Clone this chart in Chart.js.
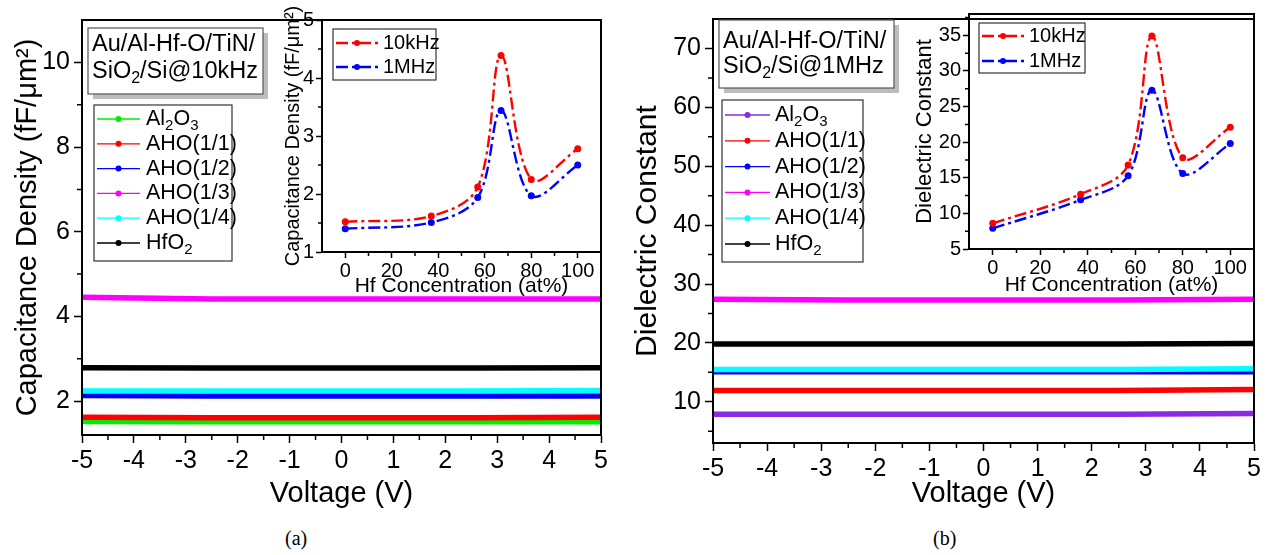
<!DOCTYPE html>
<html>
<head>
<meta charset="utf-8">
<script src="https://cdn.jsdelivr.net/npm/chart.js@4.4.0/dist/chart.umd.min.js"></script>
<style>
body{margin:0;background:#fff;width:1266px;height:555px;overflow:hidden;position:relative;}
canvas{position:absolute;top:0;}
.cap{position:absolute;top:527px;font-family:"Liberation Serif","Times New Roman",serif;font-size:20px;color:#000;}
</style>
</head>
<body>
<canvas id="mainA" width="620" height="520" style="left:0px"></canvas>
<canvas id="insetA" width="340" height="300" style="left:270px"></canvas>
<canvas id="mainB" width="636" height="520" style="left:630px"></canvas>
<canvas id="insetB" width="357" height="300" style="left:905px"></canvas>
<div class="cap" style="left:285px">(a)</div>
<div class="cap" style="left:933px">(b)</div>
<script>
// main plots: value vs bias voltage
var voltage = [-5, -2.5, 0, 2.5, 5];
var sampleNames = ['Al₂O₃', 'AHO(1/1)', 'AHO(1/2)', 'AHO(1/3)', 'AHO(1/4)', 'HfO₂'];
var colorsA = ['#00ee00', '#ff0000', '#0000ff', '#ff00ff', '#00ffff', '#000000'];
var colorsB = ['#8a2be2', '#ff0000', '#0000ff', '#ff00ff', '#00ffff', '#000000'];

// (a) capacitance density @10kHz (fF/um2)
var capAl2o3 = [1.52, 1.51, 1.51, 1.51, 1.51];
var capAho11 = [1.62, 1.61, 1.61, 1.61, 1.62];
var capAho12 = [2.13, 2.12, 2.12, 2.12, 2.12];
var capAho13 = [4.45, 4.41, 4.41, 4.41, 4.41];
var capAho14 = [2.24, 2.24, 2.24, 2.24, 2.25];
var capHfo2  = [2.79, 2.78, 2.78, 2.78, 2.79];

// (b) dielectric constant @1MHz
var kAl2o3 = [7.9, 7.9, 7.9, 7.9, 8.0];
var kAho11 = [11.9, 11.9, 11.9, 11.9, 12.1];
var kAho12 = [15.1, 15.1, 15.1, 15.1, 15.1];
var kAho13 = [27.4, 27.3, 27.3, 27.3, 27.4];
var kAho14 = [15.5, 15.5, 15.5, 15.5, 15.6];
var kHfo2  = [19.8, 19.8, 19.8, 19.8, 19.9];

// insets: vs Hf concentration
var hfConc = [0, 37, 57, 67, 80, 100];
var freqNames = ['10kHz', '1MHz'];
var cap10k = [1.52, 1.62, 2.12, 4.39, 2.25, 2.78];
var cap1M  = [1.40, 1.51, 1.94, 3.44, 1.97, 2.50];
var k10k = [8.6, 12.7, 16.8, 34.9, 17.8, 22.1];
var k1M  = [7.9, 11.9, 15.3, 27.3, 15.6, 19.8];

// tick labels
var voltTicks = [-5, -4, -3, -2, -1, 0, 1, 2, 3, 4, 5];
var capTicks = [2, 4, 6, 8, 10];
var kTicks = [10, 20, 30, 40, 50, 60, 70];
var concTicks = [0, 20, 40, 60, 80, 100];
var capInsetTicks = [1, 2, 3, 4, 5];
var kInsetTicks = [5, 10, 15, 20, 25, 30, 35];

var FONT = '"Liberation Sans", Arial, sans-serif';
var SUBS = '₀₁₂₃₄₅₆₇₈₉';
var DASHDOT = [12, 4, 3, 4];

function init(){
	Chart.defaults.font.family = FONT;
	Chart.defaults.color = '#000';
	Chart.defaults.animation = false;

	var serA = [capAl2o3, capAho11, capAho12, capAho13, capAho14, capHfo2];
	var serB = [kAl2o3, kAho11, kAho12, kAho13, kAho14, kHfo2];

	new Chart(document.getElementById('mainA'), {
		type: 'line',
		data: { datasets: mainSets(serA, colorsA) },
		options: mainOptions(
			makeScale(-5, 5, voltTicks, 'Voltage (V)', {h: 85, fs: 25, ts: 29, tl: 8, pad: 3, tpad: {top: 0, bottom: 9}}),
			makeScale(1.2, 11, capTicks, 'Capacitance Density (fF/μm²)', {w: 82, fs: 25, ts: 29, tl: 8, pad: 4, tpad: {top: 11, bottom: 0}}),
			{top: 20, right: 19, left: 0, bottom: 0}),
		plugins: [deco({
			minorLen: 5,
			textBox: {x: 88, y: 28, w: 175, h: 66, lines: ['Au/Al-Hf-O/TiN/', 'SiO₂/Si@10kHz'], ly: [45, 72], tx: 4, size: 23.5},
			legend: {x: 94, y: 105, w: 138, h: 156, first: 14, gap: 24.8, l0: 3, l1: 46, tx: 52, size: 21.5, lw: 1.3, r: 3}
		})]
	});

	new Chart(document.getElementById('mainB'), {
		type: 'line',
		data: { datasets: mainSets(serB, colorsB) },
		options: mainOptions(
			makeScale(-5, 5, voltTicks, 'Voltage (V)', {h: 77, fs: 25, ts: 29, tl: 8, pad: 3, tpad: {top: 0, bottom: 9}}),
			makeScale(3, 75, kTicks, 'Dielectric Constant', {w: 83, fs: 25, ts: 30, tl: 8, pad: 4, tpad: {top: 0, bottom: 0}}),
			{top: 13, right: 12, left: 0, bottom: 0}),
		plugins: [deco({
			minorLen: 5,
			textBox: {x: 89, y: 20, w: 175, h: 68, lines: ['Au/Al-Hf-O/TiN/', 'SiO₂/Si@1MHz'], ly: [42, 67], tx: 4, size: 23.5},
			legend: {x: 92, y: 100, w: 141, h: 162, first: 15, gap: 25.8, l0: 3, l1: 48, tx: 53, size: 21.5, lw: 1.3, r: 3}
		})]
	});

	new Chart(document.getElementById('insetA'), {
		type: 'line',
		data: { datasets: insetSets(cap10k, cap1M) },
		options: mainOptions(
			makeScale(-10, 110, concTicks, 'Hf Concentration (at%)', {h: 48, fs: 20, ts: 21, tl: 6, pad: 1, tpad: {top: 0, bottom: 1}}),
			makeScale(1, 5, capInsetTicks, 'Capacitance Density (fF/μm²)', {w: 52, fs: 20, ts: 20, tl: 6, pad: 2, tpad: {top: 11, bottom: 0}}),
			{top: 20, right: 9, left: 0, bottom: 0}),
		plugins: [deco({
			minorLen: 4,
			legend: {x: 63, y: 29, w: 103, h: 51, first: 14, gap: 24, l0: 3, l1: 45, tx: 50, size: 20, lw: 2.4, r: 3, dash: DASHDOT}
		})]
	});

	new Chart(document.getElementById('insetB'), {
		type: 'line',
		data: { datasets: insetSets(k10k, k1M) },
		options: mainOptions(
			makeScale(-10, 110, concTicks, 'Hf Concentration (at%)', {h: 51, fs: 20, ts: 21, tl: 6, pad: 1, tpad: {top: 0, bottom: 2}}),
			makeScale(5, 38, kInsetTicks, 'Dielectric Constant', {w: 64, fs: 20, ts: 22, tl: 6, pad: 2, tpad: {top: 7, bottom: 0}}),
			{top: 13, right: 8, left: 0, bottom: 0}),
		plugins: [deco({
			minorLen: 4,
			legend: {x: 74, y: 23, w: 106, h: 50, first: 13, gap: 25, l0: 3, l1: 45, tx: 50, size: 20, lw: 2.4, r: 3, dash: DASHDOT}
		})]
	});
}

function mainSets(series, colors){
	var sets = [];
	for (var i = 0; i < series.length; i++) {
		var pts = [];
		for (var j = 0; j < voltage.length; j++) pts.push({x: voltage[j], y: series[i][j]});
		sets.push({
			label: sampleNames[i], data: pts,
			borderColor: colors[i], backgroundColor: colors[i],
			borderWidth: 5.5, pointRadius: 0, tension: 0,
			order: series.length - i
		});
	}
	return sets;
}

function insetSets(hi, lo){
	var colors = ['#ff0000', '#0000ff'];
	var vals = [hi, lo];
	var sets = [];
	for (var i = 0; i < 2; i++) {
		var pts = [];
		for (var j = 0; j < hfConc.length; j++) pts.push({x: hfConc[j], y: vals[i][j]});
		sets.push({
			label: freqNames[i], data: pts,
			borderColor: colors[i], backgroundColor: colors[i],
			borderWidth: 2.4, borderDash: DASHDOT,
			pointRadius: 3.5, pointBorderWidth: 0, pointBackgroundColor: colors[i],
			tension: 0.35, order: i
		});
	}
	return sets;
}

function makeScale(min, max, tickVals, title, o){
	return {
		type: 'linear', min: min, max: max,
		afterBuildTicks: function(s){ s.ticks = tickVals.map(function(v){ return {value: v}; }); },
		afterFit: function(s){ if (o.w) s.width = o.w; if (o.h) s.height = o.h; },
		border: {display: true, color: '#000', width: 2},
		grid: {display: true, drawOnChartArea: false, drawTicks: true, tickLength: o.tl, tickWidth: 1.5, tickColor: '#000', color: '#000'},
		ticks: {font: {size: o.fs}, color: '#000', padding: o.pad, maxRotation: 0, autoSkip: false},
		title: {display: true, text: title, font: {size: o.ts}, color: '#000', padding: o.tpad},
		_majors: tickVals
	};
}

function mainOptions(x, y, pad){
	return {
		responsive: false,
		animation: false,
		events: [],
		layout: {padding: pad},
		plugins: {legend: {display: false}, tooltip: {enabled: false}},
		scales: {x: x, y: y}
	};
}

function drawRich(ctx, text, x, y, size){
	var cx = x;
	ctx.textBaseline = 'middle';
	ctx.textAlign = 'left';
	for (var i = 0; i < text.length; i++) {
		var ch = text[i];
		var k = SUBS.indexOf(ch);
		if (k >= 0) {
			ctx.font = Math.round(size * 0.68) + 'px ' + FONT;
			ctx.fillText(String(k), cx, y + size * 0.3);
			cx += ctx.measureText(String(k)).width;
		} else {
			ctx.font = size + 'px ' + FONT;
			ctx.fillText(ch, cx, y);
			cx += ctx.measureText(ch).width;
		}
	}
}

function minorTicks(scale, len, horizontal, ctx, area){
	var majors = scale.options._majors;
	var step = majors[1] - majors[0];
	ctx.beginPath();
	for (var k = -3; k < majors.length + 3; k++) {
		var v = majors[0] + (k + 0.5) * step;
		if (v <= scale.min + 1e-6 || v >= scale.max - 1e-6) continue;
		var p = scale.getPixelForValue(v);
		if (horizontal) { ctx.moveTo(p, area.bottom); ctx.lineTo(p, area.bottom + len); }
		else { ctx.moveTo(area.left, p); ctx.lineTo(area.left - len, p); }
	}
	ctx.stroke();
}

function deco(cfg){
	return {
		id: 'deco',
		afterDraw: function(chart){
			var ctx = chart.ctx, a = chart.chartArea;
			ctx.save();
			ctx.strokeStyle = '#000';
			ctx.lineWidth = 2;
			ctx.strokeRect(a.left, a.top, a.right - a.left, a.bottom - a.top);
			ctx.lineWidth = 1.5;
			minorTicks(chart.scales.x, cfg.minorLen, true, ctx, a);
			minorTicks(chart.scales.y, cfg.minorLen, false, ctx, a);

			var t = cfg.textBox;
			if (t) {
				ctx.fillStyle = '#bdbdbd';
				ctx.fillRect(t.x + 5, t.y + 5, t.w, t.h);
				ctx.fillStyle = '#fff';
				ctx.fillRect(t.x, t.y, t.w, t.h);
				ctx.strokeStyle = '#555';
				ctx.lineWidth = 1.2;
				ctx.strokeRect(t.x, t.y, t.w, t.h);
				ctx.fillStyle = '#000';
				for (var i = 0; i < t.lines.length; i++) drawRich(ctx, t.lines[i], t.x + t.tx, t.ly[i], t.size);
			}

			var L = cfg.legend;
			if (L) {
				ctx.fillStyle = '#fff';
				ctx.fillRect(L.x, L.y, L.w, L.h);
				ctx.strokeStyle = '#333';
				ctx.lineWidth = 1.2;
				ctx.strokeRect(L.x, L.y, L.w, L.h);
				chart.data.datasets.forEach(function(ds, i){
					var yy = L.y + L.first + i * L.gap;
					ctx.strokeStyle = ds.borderColor;
					ctx.lineWidth = L.lw;
					ctx.setLineDash(L.dash || []);
					ctx.beginPath();
					ctx.moveTo(L.x + L.l0, yy);
					ctx.lineTo(L.x + L.l1, yy);
					ctx.stroke();
					ctx.setLineDash([]);
					ctx.fillStyle = ds.borderColor;
					ctx.beginPath();
					ctx.arc(L.x + (L.l0 + L.l1) / 2, yy, L.r, 0, 2 * Math.PI);
					ctx.fill();
					ctx.fillStyle = '#000';
					drawRich(ctx, ds.label, L.x + L.tx, yy, L.size);
				});
			}
			ctx.restore();
		}
	};
}

init();
</script>
</body>
</html>
